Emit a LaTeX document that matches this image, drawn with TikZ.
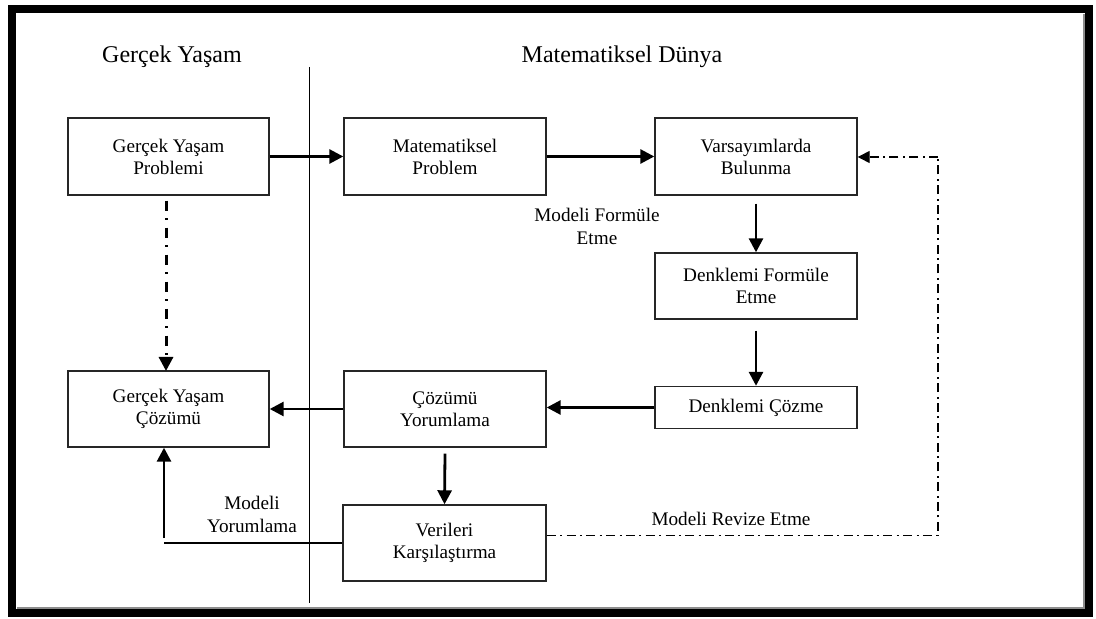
\documentclass[tikz,border=0pt]{standalone}
\usepackage{fontspec}
\setmainfont{Liberation Serif}
\usetikzlibrary{arrows.meta}
\begin{document}
\begin{tikzpicture}[x=0.5pt,y=-0.5pt,
  box/.style={draw=black!85, line width=0.7pt, fill=white, align=center,
    font=\fontsize{9.6pt}{11pt}\selectfont, inner sep=0pt},
  head/.style={font=\fontsize{12pt}{14pt}\selectfont, inner sep=0pt},
  lbl/.style={align=center, font=\fontsize{9.6pt}{11.5pt}\selectfont, inner sep=0pt},
  flow/.style={line width=1.4pt, -{Triangle[length=7pt,width=7pt]}},
  thinline/.style={line width=0.7pt},
  revise/.style={line width=0.7pt, dash pattern=on 4.5pt off 2.2pt on 1pt off 2.2pt},
  revisearrow/.style={revise, -{Triangle[length=6pt,width=6pt]}},
  guess/.style={line width=1.5pt, dash pattern=on 5pt off 3.8pt on 0.9pt off 3.8pt,
    -{Triangle[length=7pt,width=7pt]}}
]
% page and frame
\useasboundingbox (0,0) rectangle (1096,619);
\fill[white] (0,0) rectangle (1096,619);
\draw[black!45, line width=1pt] (1083.5,14) -- (1083.5,607.5) -- (17,607.5);
\draw[black, line width=4pt] (12,9) rectangle (1089,613);

% column headings and divider
\node[head] (hreal) at (172,57) {Gerçek Yaşam};
\node[head] (hmath) at (622,57) {Matematiksel Dünya};
\coordinate (divtop) at (309.5,67);
\coordinate (divbot) at (309.5,603);
\draw[thinline] (divtop) -- (divbot);

% boxes
\node[box, minimum width=100.5pt, minimum height=38.5pt] (gyp) at (168.5,156.5) {Gerçek Yaşam\\Problemi};
\node[box, minimum width=101pt, minimum height=38.5pt] (mp) at (445,156.5) {Matematiksel\\Problem};
\node[box, minimum width=101pt, minimum height=38.5pt] (vb) at (756,156.5) {Varsayımlarda\\Bulunma};
\node[box, minimum width=101pt, minimum height=33pt] (dfe) at (756,286) {Denklemi Formüle\\Etme};
\node[box, minimum width=101pt, minimum height=21pt] (dc) at (756,407.5) {Denklemi Çözme};
\node[box, minimum width=101pt, minimum height=38pt] (cy) at (445,409) {Çözümü\\Yorumlama};
\node[box, minimum width=100.5pt, minimum height=38pt] (gyc) at (168.5,409) {Gerçek Yaşam\\Çözümü};
\node[box, minimum width=101.5pt, minimum height=38pt] (vk) at (444.5,543) {Verileri\\Karşılaştırma};

% labels
\node[lbl] (lform) at (597,226) {Modeli Formüle\\Etme};
\node[lbl] (lyor) at (252,514) {Modeli\\Yorumlama};
\node[lbl] (lrev) at (731,519) {Modeli Revize Etme};

% main flow
\draw[flow] (gyp.east) -- (mp.west);
\draw[flow] (mp.east) -- (vb.west);
\draw[flow] ([yshift=-4pt]vb.south) -- (dfe.north);
\draw[flow] ([yshift=-5.5pt]dfe.south) -- (dc.north);
\draw[flow] (dc.west) -- (cy.east |- dc.west);
\draw[flow] (cy.west) -- (gyc.east);
\draw[flow] ([yshift=-3pt]cy.south) -- (vk.north);

% direct guess from the real problem to the real solution
\draw[guess] ([yshift=-2.5pt]gyp.south -| 166,0) -- (166,371);

% interpreting the model back in the real world
\coordinate (yorcorner) at (164,543);
\draw[thinline] (vk.west) -- (yorcorner);
\draw[flow] (164,538) -- (gyc.south -| 164,0);

% revising the model
\coordinate (revlow) at (938,535.5);
\coordinate (revhigh) at (938,157);
\draw[revise] (vk.east |- revlow) -- (revlow) -- (revhigh);
\draw[revisearrow] (revhigh) -- (vb.east |- revhigh);
\end{tikzpicture}
\end{document}
